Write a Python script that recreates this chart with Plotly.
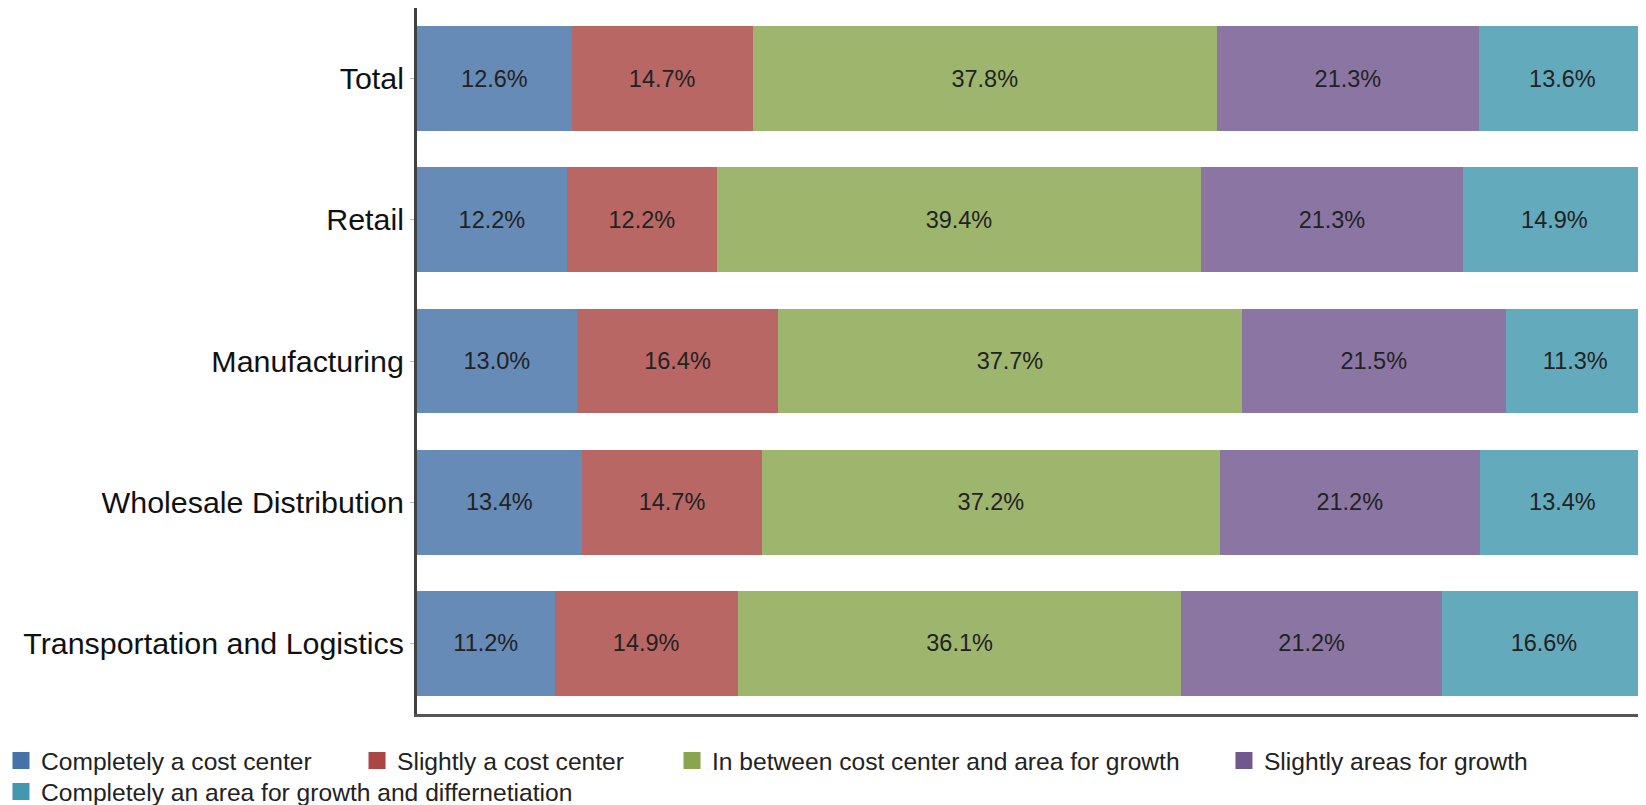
import plotly.graph_objects as go

categories = ["Total", "Retail", "Manufacturing", "Wholesale Distribution", "Transportation and Logistics"]
series_names = [
    "Completely a cost center",
    "Slightly a cost center",
    "In between cost center and area for growth",
    "Slightly areas for growth",
    "Completely an area for growth and differnetiation",
]
completely_cost = [12.6, 12.2, 13.0, 13.4, 11.2]
slightly_cost = [14.7, 12.2, 16.4, 14.7, 14.9]
in_between = [37.8, 39.4, 37.7, 37.2, 36.1]
slightly_growth = [21.3, 21.3, 21.5, 21.2, 21.2]
completely_growth = [13.6, 14.9, 11.3, 13.4, 16.6]
series_values = [completely_cost, slightly_cost, in_between, slightly_growth, completely_growth]
bar_colors = ["#668BB6", "#B96765", "#9EB56E", "#8B76A3", "#63AABD"]
legend_colors = ["#4572A7", "#AA4643", "#89A54E", "#71588F", "#4198AF"]

# legend placement (paper coordinates) for each entry
legend_ids = ["legend", "legend2", "legend3", "legend4", "legend5"]
legend_x = [-0.3385, -0.0488, 0.2075, 0.6566, -0.3385]
legend_y = [-0.0659, -0.0659, -0.0659, -0.0659, -0.1098]

FONT = "Liberation Sans, Arial, sans-serif"

fig = go.Figure()
for name, vals, col in zip(series_names, series_values, bar_colors):
    fig.add_trace(go.Bar(
        y=categories, x=vals, name=name, orientation="h",
        marker=dict(color=col, line=dict(width=0)),
        texttemplate="%{x:.1f}%", textposition="inside", insidetextanchor="middle",
        textangle=0, textfont=dict(size=23.5, color="#222222", family=FONT),
        hoverinfo="skip", showlegend=False,
    ))

# legend-only entries (no data drawn)
for name, col, lid in zip(series_names, legend_colors, legend_ids):
    fig.add_trace(go.Bar(
        y=[None], x=[None], name=name, orientation="h",
        marker=dict(color=col, line=dict(width=5, color=col)),
        showlegend=True, legend=lid, hoverinfo="skip",
    ))

legend_common = dict(
    orientation="h", xanchor="left", yanchor="middle",
    font=dict(size=24.6, color="#222222", family=FONT),
    bgcolor="rgba(0,0,0,0)", borderwidth=0,
    itemclick=False, itemdoubleclick=False,
)
layout_legends = {}
for lid, lx, ly in zip(legend_ids, legend_x, legend_y):
    layout_legends[lid] = dict(legend_common, x=lx, y=ly)

fig.update_layout(
    barmode="stack",
    bargap=0.257,
    width=1638, height=797,
    margin=dict(l=409, r=0, t=0, b=91, autoexpand=False),
    paper_bgcolor="white", plot_bgcolor="white",
    font=dict(family=FONT, color="#222222"),
    uniformtext=dict(minsize=8, mode="show"),
    showlegend=True,
    **layout_legends,
)
fig.update_xaxes(
    range=[0, 100], showgrid=False, zeroline=False, showticklabels=False,
    showline=True, linecolor="#555555", linewidth=3, ticks="", fixedrange=True,
    automargin=False,
)
fig.update_yaxes(
    autorange="reversed", showgrid=False, zeroline=False,
    showline=True, linecolor="#404040", linewidth=3,
    ticks="outside", ticklen=4, tickcolor="#bbbbbb", tickwidth=1,
    ticklabelstandoff=0, automargin=False,
    tickfont=dict(size=30.4, color="#111111", family=FONT), fixedrange=True,
)

fig.write_html("out.html")
